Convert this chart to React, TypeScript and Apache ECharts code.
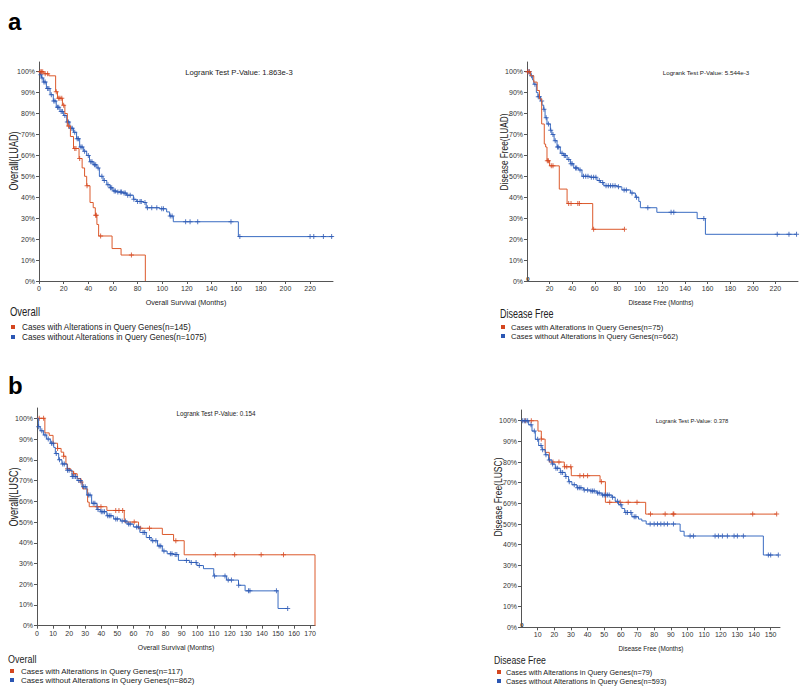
import React, { useEffect, useRef } from "react";
import * as echarts from "echarts";

// ---------- Panel a (LUAD) Overall survival ----------
const luadOsAltT = [0, 4, 8, 13.5, 15, 19, 21, 23, 25.5, 28, 32.5, 35, 37, 38.7, 41.4, 44, 45.7, 47, 48.4, 59.3, 66.6, 86.3];
const luadOsAltS = [100, 99, 98, 90.4, 87.3, 84, 80, 74, 69, 63.3, 58.5, 54, 50, 45.5, 37.5, 35, 31.4, 27, 21.5, 15.5, 12.4, 0];
const luadOsAltCens = [1, 2, 3, 5, 7, 14, 16, 17, 18.5, 20, 24, 29, 30, 33, 39, 46, 46.5, 50, 75];
const luadOsAltEnd = 86.3;

const luadOsUnT = [0, 1, 2, 3.5, 6, 9, 11.6, 14, 17, 20, 22.5, 25, 28, 30.5, 33, 36, 38.7, 41, 44, 47, 49, 52, 55, 57.6, 60, 63, 68, 71, 76.6, 79, 84.7, 87, 98, 103.6, 106, 109, 161.8];
const luadOsUnS = [100, 98.5, 97, 95, 92, 89, 86, 83, 81, 79, 76, 73, 71, 68, 64, 62, 60, 57, 55.5, 54, 50, 48, 46, 44.5, 43, 42.5, 42, 41, 39, 38, 37.5, 35, 34.5, 33, 31, 28.3, 21.2];
const luadOsUnCens = [1.5, 2.5, 4, 5, 7, 8, 10, 12, 13, 15, 16, 18, 19, 21, 23, 24, 26, 27, 29, 31, 32, 34, 35, 37, 40, 42, 43, 45, 46, 48, 51, 53, 56, 58, 59, 61, 62, 64, 66, 67, 69, 70, 72, 74, 77, 80, 82, 83, 86, 88, 91.5, 95.6, 99.6, 101, 106.5, 108, 119, 122.6, 128.8, 155.8, 163, 220, 223, 230.8, 237.5];
const luadOsUnEnd = 238.5;

// ---------- Panel a (LUAD) Disease free ----------
const luadDfAltT = [0, 3, 6, 9, 11, 13, 15.3, 16.5, 17.7, 20, 28.6, 35.5, 58.2];
const luadDfAltS = [100, 98, 95, 91, 87, 75, 65.4, 64, 57.4, 55, 43.9, 37, 24.7];
const luadDfAltCens = [0.5, 2, 18, 19, 21.5, 23, 36.9, 39, 45, 46.4, 59, 86.3];
const luadDfAltEnd = 86.3;

const luadDfUnT = [0, 3, 5, 6, 8.3, 9.7, 12, 13.3, 14.8, 16, 17.7, 20.7, 22, 24, 26.6, 29.5, 32.5, 35.5, 38.4, 41.4, 45.8, 48.7, 56, 62, 65, 68, 80, 84, 91.6, 96, 99, 100.4, 115, 150.7, 158];
const luadDfUnS = [100, 98, 96, 94, 90, 88, 86, 84, 82, 78, 75, 72, 70, 67, 64, 61, 60, 58, 56, 54, 53, 50, 49.5, 48, 47, 45.5, 45, 43.5, 42, 40, 38, 35, 32.8, 29.8, 22.3];
const luadDfUnCens = [1, 2, 4, 7, 10, 11, 13, 15, 17, 19, 21, 23, 25, 27, 28, 31, 33, 34, 37, 39, 40, 43, 44, 47, 50, 52, 54, 57, 59, 61, 64, 67, 70, 72, 74, 76, 78, 81, 86, 88, 93, 97, 107, 127.6, 130, 156.6, 221.6, 232, 238.7];
const luadDfUnEnd = 238.7;

// ---------- Panel b (LUSC) Overall survival ----------
const luscOsAltT = [0, 4.9, 7.6, 10, 12.8, 15, 16.6, 18, 19, 21, 22.8, 25, 27.4, 28.4, 31.5, 32.5, 43.5, 54.3, 63.2, 78, 85, 91.6, 173];
const luscOsAltS = [100, 93, 91.8, 88, 85.5, 83.7, 81.7, 78, 75.7, 74.5, 73.3, 71, 69.3, 66, 59.6, 57.4, 55.6, 50, 47, 44, 41, 34.2, 0];
const luscOsAltCens = [1.4, 4.1, 12.8, 16.6, 19, 22.8, 27.4, 37.5, 39.8, 49, 51, 53.3, 60.5, 64.5, 70, 86.4, 111, 123, 139.5, 153.4];
const luscOsAltEnd = 173;

const luscOsUnT = [0, 1, 2, 4, 6, 8.3, 10.4, 11.4, 13.5, 15.5, 18.7, 21.8, 25, 28, 31, 34, 37.3, 39.4, 43.5, 47.7, 52, 56, 60, 64, 68, 71, 75, 78, 81, 85, 88, 95, 99.5, 103.6, 110, 118, 125.4, 129.5, 150];
const luscOsUnS = [100, 96, 94, 92, 90, 88, 86, 83, 80, 78, 75, 72, 70, 67, 63, 59, 56, 55, 53, 51.5, 50.5, 49, 47.6, 45, 42.5, 41, 38.5, 36, 34.7, 34.3, 31.5, 30.5, 29, 27.5, 24, 22, 19.5, 16.8, 8.3];
const luscOsUnCens = [1, 3, 5, 7, 9, 10, 12, 14, 16, 17, 19, 20, 22, 23, 24, 26, 27, 29, 30, 32, 33, 35, 36, 38, 40, 41, 42, 44, 45, 46, 49, 50, 53, 55, 57, 58, 62, 63, 66, 67, 70, 72, 74, 76, 77, 79, 83, 84, 86, 87, 93, 96, 99, 101, 110.5, 117, 119, 121, 125.5, 131.6, 132.5, 149, 156];
const luscOsUnEnd = 156;

// ---------- Panel b (LUSC) Disease free ----------
const luscDfAltT = [0, 10.2, 12.2, 14.5, 17, 26, 30.2, 47.5, 50.7, 74.9];
const luscDfAltS = [100, 95, 91.1, 84.7, 80, 77.7, 73.4, 70.5, 60.5, 54.8];
const luscDfAltCens = [2.6, 6.2, 12.2, 19.2, 22.8, 26.2, 27.5, 29.9, 35.4, 37.6, 40, 48.3, 53.3, 59.6, 64.4, 69.7, 77.8, 86.6, 91.4, 91.8, 139.2, 153.6];
const luscDfAltEnd = 153.6;

const luscDfUnT = [0, 4.6, 6.6, 8.6, 10.6, 12.6, 14.6, 16.6, 18.6, 20.6, 23.6, 26.6, 28.6, 30.6, 33.6, 37.6, 41.6, 45.6, 48.6, 54.6, 56.6, 58.6, 60.6, 62.3, 66.6, 70.6, 72.6, 75.2, 95.6, 98, 145.6];
const luscDfUnS = [100, 98, 95, 91, 88, 86, 83.5, 81, 79, 77, 75, 73, 70.5, 69, 67.5, 66.5, 66, 65, 64, 63, 61, 59.3, 57.5, 55.6, 53.5, 52.4, 51.5, 50, 46.5, 44.2, 35];
const luscDfUnCens = [1, 2, 3, 4, 6, 8, 10, 12, 13, 15, 17, 19, 21, 22, 24, 25, 27, 29, 32, 34, 35, 36, 38, 40, 42, 43, 44, 46, 47, 49, 50, 51, 52, 53, 55, 58, 60, 63, 64, 66, 68, 69, 77.6, 80, 82, 84, 86, 88, 91.6, 101.6, 103.6, 116.6, 118.6, 121, 124, 128, 130, 133.6, 148.6, 150, 154.6];
const luscDfUnEnd = 154.6;

// ---------- Tick labels ----------
const yTicks = [0, 10, 20, 30, 40, 50, 60, 70, 80, 90, 100];
const xTicksAOs = [0, 20, 40, 60, 80, 100, 120, 140, 160, 180, 200, 220];
const xTicksADf = [20, 40, 60, 80, 100, 120, 140, 160, 180, 200, 220];
const xTicksBOs = [0, 10, 20, 30, 40, 50, 60, 70, 80, 90, 100, 110, 120, 130, 140, 150, 160, 170];
const xTicksBDf = [10, 20, 30, 40, 50, 60, 70, 80, 90, 100, 110, 120, 130, 140, 150];

// ---------- Texts ----------
const legendAltA = "Cases with Alterations in Query Genes(n=145)";
const legendUnA = "Cases without Alterations in Query Genes(n=1075)";
const legendAltA2 = "Cases with Alterations in Query Genes(n=75)";
const legendUnA2 = "Cases without Alterations in Query Genes(n=662)";
const legendAltB = "Cases with Alterations in Query Genes(n=117)";
const legendUnB = "Cases without Alterations in Query Genes(n=862)";
const legendAltB2 = "Cases with Alterations in Query Genes(n=79)";
const legendUnB2 = "Cases without Alterations in Query Genes(n=593)";

const RED = "#d4461f";
const RED_LINE = "#dc5a2c";
const BLUE = "#2b56b3";
const BLUE_LINE = "#3a6cc2";
const FONT = "Liberation Sans, Arial, sans-serif";
const PLUS = "path://M2,0H3V2H5V3H3V5H2V3H0V2H2Z";

function survAt(t: number, times: number[], surv: number[]) {
  let v = surv[0];
  for (let i = 0; i < times.length; i++) if (times[i] <= t) v = surv[i];
  return v;
}

function curve(idx: number, times: number[], surv: number[], end: number, cens: number[], lineColor: string, markColor: string, z: number) {
  const data = times.map((t, i) => [t, surv[i]]);
  if (end > times[times.length - 1]) data.push([end, surv[surv.length - 1]]);
  const line = {
    type: "line",
    xAxisIndex: idx,
    yAxisIndex: idx,
    step: "end",
    showSymbol: false,
    symbol: "none",
    data,
    lineStyle: { color: lineColor, width: 1 },
    z,
    silent: true,
  };
  const sc = {
    type: "scatter",
    xAxisIndex: idx,
    yAxisIndex: idx,
    symbol: PLUS,
    symbolSize: 5,
    itemStyle: { color: markColor },
    data: cens.map((t) => [t, survAt(t, times, surv)]),
    z: z + 1,
    silent: true,
  };
  return [line, sc];
}

function txt(x: number, y: number, text: string, size: number, opts: any = {}) {
  return {
    type: "text",
    x,
    y,
    rotation: opts.rotation || 0,
    scaleX: opts.scaleX || 1,
    style: {
      text,
      fill: opts.fill || "#222",
      font: `${opts.bold ? "bold " : ""}${size}px ${FONT}`,
      textAlign: opts.align || "left",
      textVerticalAlign: "middle",
    },
  };
}

function sq(x: number, y: number, color: string) {
  return { type: "rect", shape: { x, y, width: 4, height: 4 }, style: { fill: color } };
}

export default function App() {
  const ref = useRef<HTMLDivElement>(null);
  useEffect(() => {
    if (!ref.current) return;
    const chart = echarts.init(ref.current, null, { renderer: "svg" });

    const grids = [
      { left: 39, top: 62, width: 294, height: 219 },
      { left: 527, top: 62, width: 271, height: 219 },
      { left: 37, top: 408, width: 278, height: 217.7 },
      { left: 521, top: 410, width: 259, height: 217.3 },
    ];
    const xMax = [238.6, 240, 173, 155.6];
    const yMax = [104.6, 104.6, 105, 105.2];
    const xTickLists = [xTicksAOs, xTicksADf, xTicksBOs, xTicksBDf];

    const axisLine = { show: true, lineStyle: { color: "#555", width: 1 } };
    const xAxis = grids.map((_, i) => ({
      type: "value",
      gridIndex: i,
      min: 0,
      max: xMax[i],
      axisLine: { ...axisLine, onZero: false },
      axisTick: { show: true, length: 3, customValues: xTickLists[i], lineStyle: { color: "#555" } },
      axisLabel: { customValues: xTickLists[i], fontSize: 7, color: "#333", fontFamily: FONT, margin: 4 },
      splitLine: { show: false },
    }));
    const yAxis = grids.map((_, i) => ({
      type: "value",
      gridIndex: i,
      min: 0,
      max: yMax[i],
      axisLine: { ...axisLine, onZero: false },
      axisTick: { show: true, length: 3, customValues: yTicks, lineStyle: { color: "#555" } },
      axisLabel: {
        customValues: yTicks,
        fontSize: 7,
        color: "#333",
        fontFamily: FONT,
        margin: 4,
        formatter: (v: number) => `${v}%`,
      },
      splitLine: { show: false },
    }));

    const series = [
      ...curve(0, luadOsUnT, luadOsUnS, luadOsUnEnd, luadOsUnCens, BLUE_LINE, BLUE, 2),
      ...curve(0, luadOsAltT, luadOsAltS, luadOsAltEnd, luadOsAltCens, RED_LINE, RED, 4),
      ...curve(1, luadDfUnT, luadDfUnS, luadDfUnEnd, luadDfUnCens, BLUE_LINE, BLUE, 2),
      ...curve(1, luadDfAltT, luadDfAltS, luadDfAltEnd, luadDfAltCens, RED_LINE, RED, 4),
      ...curve(2, luscOsUnT, luscOsUnS, luscOsUnEnd, luscOsUnCens, BLUE_LINE, BLUE, 4),
      ...curve(2, luscOsAltT, luscOsAltS, luscOsAltEnd, luscOsAltCens, RED_LINE, RED, 2),
      ...curve(3, luscDfUnT, luscDfUnS, luscDfUnEnd, luscDfUnCens, BLUE_LINE, BLUE, 4),
      ...curve(3, luscDfAltT, luscDfAltS, luscDfAltEnd, luscDfAltCens, RED_LINE, RED, 2),
    ];

    const rot = Math.PI / 2;
    const graphic = [
      txt(8, 21, "a", 24, { bold: true, fill: "#000" }),
      txt(8, 385, "b", 24, { bold: true, fill: "#000" }),
      // y-axis titles
      txt(13, 161, "Overall(LUAD)", 12, { rotation: rot, align: "center", scaleX: 0.76 }),
      txt(504, 152, "Disease Free(LUAD)", 11.5, { rotation: rot, align: "center", scaleX: 0.72 }),
      txt(13, 497, "Overall(LUSC)", 12, { rotation: rot, align: "center", scaleX: 0.76 }),
      txt(498, 497, "Disease Free(LUSC)", 11.5, { rotation: rot, align: "center", scaleX: 0.74 }),
      // logrank
      txt(239, 72, "Logrank Test P-Value: 1.863e-3", 7.7, { align: "center" }),
      txt(706, 72, "Logrank Test P-Value: 5.544e-3", 6.2, { align: "center" }),
      txt(216, 413, "Logrank Test P-Value: 0.154", 6.3, { align: "center" }),
      txt(692, 421, "Logrank Test P-Value: 0.378", 5.8, { align: "center" }),
      // x titles
      txt(186, 302, "Overall Survival (Months)", 7.2, { align: "center" }),
      txt(661, 302, "Disease Free (Months)", 6.4, { align: "center" }),
      txt(176, 647, "Overall Survival (Months)", 6.8, { align: "center" }),
      txt(651, 648, "Disease Free (Months)", 6.4, { align: "center" }),
      // origin glyphs
      txt(528, 279, "0", 6, { align: "center", bold: true }),
      txt(522, 625, "0", 6, { align: "center", bold: true }),
      // section titles + legends
      txt(10, 312, "Overall", 12, { scaleX: 0.79 }),
      sq(11, 325, RED), sq(11, 335, BLUE),
      txt(22, 327, legendAltA, 8.2), txt(22, 337, legendUnA, 8.2),
      txt(500, 313, "Disease Free", 12, { scaleX: 0.75 }),
      sq(501, 325, RED), sq(501, 334, BLUE),
      txt(511, 327, legendAltA2, 7.6), txt(511, 336.5, legendUnA2, 7.6),
      txt(8, 659, "Overall", 11.5, { scaleX: 0.78 }),
      sq(10, 669, RED), sq(10, 678, BLUE),
      txt(21, 671, legendAltB, 7.9), txt(21, 680, legendUnB, 7.9),
      txt(494, 660, "Disease Free", 11.5, { scaleX: 0.76 }),
      sq(497, 670, RED), sq(497, 679, BLUE),
      txt(506, 672, legendAltB2, 7.3), txt(506, 681, legendUnB2, 7.3),
    ];

    chart.setOption({
      animation: false,
      backgroundColor: "#fff",
      grid: grids,
      xAxis,
      yAxis,
      series,
      graphic,
    });
    return () => chart.dispose();
  }, []);
  return <div ref={ref} style={{ position: "absolute", left: 0, top: 0, width: 800, height: 688 }} />;
}
